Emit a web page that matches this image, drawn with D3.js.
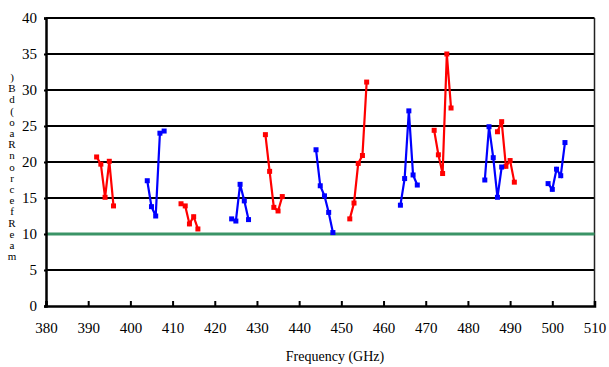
<!DOCTYPE html>
<html lang="en">
<head>
  <meta charset="UTF-8">
  <title>Frequency vs dB</title>
  <script src="https://d3js.org/d3.v7.min.js"></script>
  <style>
    body { margin: 0; background: white; }
    svg text { font-family: "Times New Roman", "Liberation Serif", "DejaVu Serif", serif; }
  </style>
</head>
<body>
  <svg width="609" height="367"></svg>
  <script>
    // series: each group of five points, alternating red / blue
    const redFreqs = [
      [392, 393, 394, 395, 396],
      [412, 413, 414, 415, 416],
      [432, 433, 434, 435, 436],
      [452, 453, 454, 455, 456],
      [472, 473, 474, 475, 476],
      [487, 488, 489, 490, 491]
    ];
    const redValues = [
      [20.7, 19.7, 15.1, 20.1, 13.9],
      [14.2, 13.9, 11.4, 12.4, 10.7],
      [23.8, 18.7, 13.7, 13.2, 15.2],
      [12.1, 14.3, 19.8, 20.9, 31.1],
      [24.4, 21.0, 18.4, 35.0, 27.5],
      [24.2, 25.6, 19.4, 20.2, 17.2]
    ];
    const blueFreqs = [
      [404, 405, 406, 407, 408],
      [424, 425, 426, 427, 428],
      [444, 445, 446, 447, 448],
      [464, 465, 466, 467, 468],
      [484, 485, 486, 487, 488],
      [499, 500, 501, 502, 503]
    ];
    const blueValues = [
      [17.4, 13.8, 12.5, 24.0, 24.3],
      [12.1, 11.8, 16.9, 14.6, 12.0],
      [21.7, 16.7, 15.3, 13.0, 10.2],
      [14.0, 17.7, 27.1, 18.2, 16.8],
      [17.5, 24.9, 20.6, 15.1, 19.3],
      [17.0, 16.2, 19.0, 18.1, 22.7]
    ];
    const threshold = 10;
    const xTicks = d3.range(380, 511, 10);
    const yTicks = d3.range(0, 41, 5);
    const yLabelChars = [")", "B", "d", "(", "o", "a", "R", "n", "o", "r", "c", "e", "f", "R", "e", "a", "m"];

    const svg = d3.select("svg");
    const x = d3.scaleLinear().domain([380, 510]).range([46, 594.5]);
    const y = d3.scaleLinear().domain([0, 40]).range([306, 18]);

    // horizontal grid lines
    svg.append("g")
      .selectAll("line")
      .data(yTicks.filter(d => d > 0))
      .join("line")
      .attr("x1", x(380)).attr("x2", x(510))
      .attr("y1", d => y(d)).attr("y2", d => y(d))
      .attr("stroke", "#000")
      .attr("stroke-width", 2);

    // right border
    svg.append("line")
      .attr("x1", x(510)).attr("x2", x(510))
      .attr("y1", y(40)).attr("y2", y(0))
      .attr("stroke", "#222").attr("stroke-width", 1.5);

    // threshold line
    svg.append("line")
      .attr("x1", x(380)).attr("x2", x(510))
      .attr("y1", y(threshold)).attr("y2", y(threshold))
      .attr("stroke", "#3a9466")
      .attr("stroke-width", 3);

    // x axis
    const xAxis = svg.append("g")
      .attr("transform", `translate(0,${y(0)})`)
      .call(d3.axisBottom(x).tickValues(xTicks).tickSize(-5).tickPadding(16).tickFormat(d3.format("d")));
    xAxis.attr("font-family", null).attr("font-size", 15);
    xAxis.select(".domain").attr("stroke", "#000").attr("stroke-width", 2.5);
    xAxis.selectAll(".tick line").attr("stroke-width", 2);

    // y axis
    const yAxis = svg.append("g")
      .attr("transform", `translate(${x(380)},0)`)
      .call(d3.axisLeft(y).tickValues(yTicks).tickSize(2).tickPadding(7));
    yAxis.attr("font-family", null).attr("font-size", 15);
    yAxis.select(".domain").attr("stroke", "#000").attr("stroke-width", 2.5);
    yAxis.selectAll(".tick line").attr("stroke-width", 2);

    // series
    const line = d3.line().x(d => x(d[0])).y(d => y(d[1]));
    function drawGroups(freqs, values, color) {
      freqs.forEach((fs, i) => {
        const pts = fs.map((f, j) => [f, values[i][j]]);
        svg.append("path")
          .datum(pts)
          .attr("d", line)
          .attr("fill", "none")
          .attr("stroke", color)
          .attr("stroke-width", 2.2);
        svg.append("g")
          .selectAll("rect")
          .data(pts)
          .join("rect")
          .attr("x", d => x(d[0]) - 2.5)
          .attr("y", d => y(d[1]) - 2.5)
          .attr("width", 5).attr("height", 5)
          .attr("fill", color);
      });
    }
    drawGroups(redFreqs, redValues, "#ff0000");
    drawGroups(blueFreqs, blueValues, "#0000ff");

    // x title
    svg.append("text")
      .attr("x", 335).attr("y", 361)
      .attr("text-anchor", "middle")
      .attr("font-size", 14)
      .text("Frequency (GHz)");

    // stacked y title
    svg.append("g")
      .selectAll("text")
      .data(yLabelChars)
      .join("text")
      .attr("x", 12)
      .attr("y", (d, i) => 81 + i * 11.2)
      .attr("text-anchor", "middle")
      .attr("font-size", 11)
      .text(d => d);
  </script>
</body>
</html>
